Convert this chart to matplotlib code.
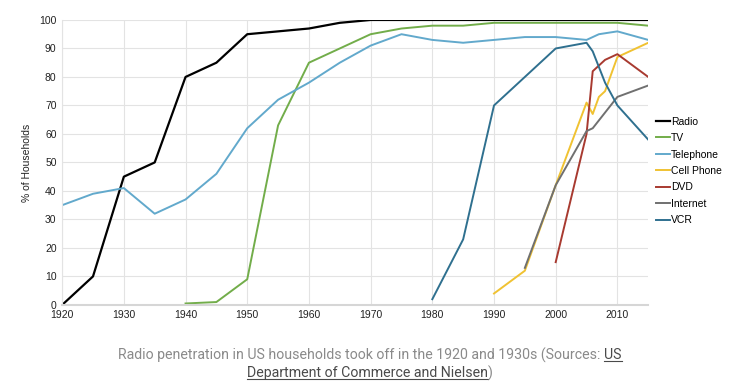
import matplotlib
matplotlib.use("Agg")
import matplotlib.pyplot as plt
from matplotlib.lines import Line2D

plt.rcParams['font.family'] = ['Liberation Sans Narrow', 'Liberation Sans', 'DejaVu Sans']

radio_x = [1920, 1925, 1930, 1935, 1940, 1945, 1950, 1955, 1960, 1965, 1970, 1975, 1980, 1985, 1990, 1995, 2000, 2005, 2010, 2015]
radio_y = [0, 10, 45, 50, 80, 85, 95, 96, 97, 99, 100, 100, 100, 100, 100, 100, 100, 100, 100, 100]

tv_x = [1940, 1945, 1950, 1955, 1960, 1965, 1970, 1975, 1980, 1985, 1990, 1995, 2000, 2005, 2010, 2015]
tv_y = [0.5, 1, 9, 63, 85, 90, 95, 97, 98, 98, 99, 99, 99, 99, 99, 98]

phone_x = [1920, 1925, 1930, 1935, 1940, 1945, 1950, 1955, 1960, 1965, 1970, 1975, 1980, 1985, 1990, 1995, 2000, 2005, 2007, 2010, 2015]
phone_y = [35, 39, 41, 32, 37, 46, 62, 72, 78, 85, 91, 95, 93, 92, 93, 94, 94, 93, 95, 96, 93]

cell_x = [1990, 1995, 2000, 2005, 2006, 2007, 2008, 2010, 2015]
cell_y = [4, 12, 42, 71, 67, 73, 75, 87, 92]

dvd_x = [2000, 2005, 2006, 2008, 2010, 2015]
dvd_y = [15, 60, 82, 86, 88, 80]

net_x = [1995, 2000, 2005, 2006, 2010, 2015]
net_y = [13, 42, 61, 62, 73, 77]

vcr_x = [1980, 1985, 1990, 1995, 2000, 2005, 2006, 2008, 2010, 2015]
vcr_y = [2, 23, 70, 80, 90, 92, 89, 78, 70, 58]

fig = plt.figure(figsize=(7.4, 3.84), dpi=100)
ax = fig.add_axes([0.084, 0.206, 0.792, 0.742])

ax.plot(radio_x, radio_y, color='#000000', lw=1.6, label='Radio')
ax.plot(tv_x, tv_y, color='#72ad4a', lw=1.4, label='TV')
ax.plot(phone_x, phone_y, color='#62a9cc', lw=1.4, label='Telephone')
ax.plot(cell_x, cell_y, color='#f0c232', lw=1.4, label='Cell Phone')
ax.plot(dvd_x, dvd_y, color='#a83a30', lw=1.4, label='DVD')
ax.plot(net_x, net_y, color='#707070', lw=1.4, label='Internet')
ax.plot(vcr_x, vcr_y, color='#2f708f', lw=1.4, label='VCR')

ax.set_xlim(1920, 2015)
ax.set_ylim(0, 100)
ax.set_xticks(range(1920, 2011, 10))
ax.set_yticks(range(0, 101, 10))
ax.grid(True, color='#e3e3e3', lw=0.8)
ax.set_axisbelow(True)
for s in ['top', 'right']:
    ax.spines[s].set_visible(False)
ax.spines['left'].set_color('#e3e3e3')
ax.spines['bottom'].set_color('#d6d6d6')
ax.spines['bottom'].set_linewidth(1.5)
ax.tick_params(length=0, labelsize=7.5, colors='#222222', pad=4)
ax.set_ylabel('% of Households', fontsize=7.5, color='#222222', labelpad=5)

ax.legend(loc='center left', bbox_to_anchor=(1.0, 0.47), frameon=False,
          fontsize=7.5, handlelength=1.4, handletextpad=0.1,
          labelspacing=0.62, borderaxespad=0.3)

# caption with underlined link text
cap_kw = dict(fontsize=10.2, color='#8a8a8a', family=['Roboto', 'DejaVu Sans'], fontweight='normal')
link_color = '#4a4a4a'
fig.canvas.draw()
r = fig.canvas.get_renderer()

part1 = 'Radio penetration in US households took off in the 1920 and 1930s (Sources: '
part2 = 'US'
part3 = 'Department of Commerce and Nielsen'
part4 = ')'

def width_of(s, y):
    t = fig.text(0, y, s, **cap_kw)
    w = t.get_window_extent(r).width
    t.remove()
    return w

W = fig.bbox.width
y1, y2 = 0.064, 0.017
w1, w2 = width_of(part1, y1), width_of(part2, y1)
x0 = (W - w1 - w2) / 2
fig.text(x0 / W, y1, part1, **cap_kw)
t2 = fig.text((x0 + w1) / W, y1, part2, **{**cap_kw, 'color': link_color})
w3, w4 = width_of(part3, y2), width_of(part4, y2)
x1 = (W - w3 - w4) / 2
t3 = fig.text(x1 / W, y2, part3, **{**cap_kw, 'color': link_color})
fig.text((x1 + w3) / W, y2, part4, **cap_kw)

fig.canvas.draw()
for t in (t2, t3):
    bb = t.get_window_extent(r)
    yy = (bb.y0 + 1) / fig.bbox.height
    fig.add_artist(Line2D([bb.x0 / W, bb.x1 / W], [yy, yy], color=link_color, lw=0.8,
                          transform=fig.transFigure))

fig.savefig('out.png', dpi=100)
